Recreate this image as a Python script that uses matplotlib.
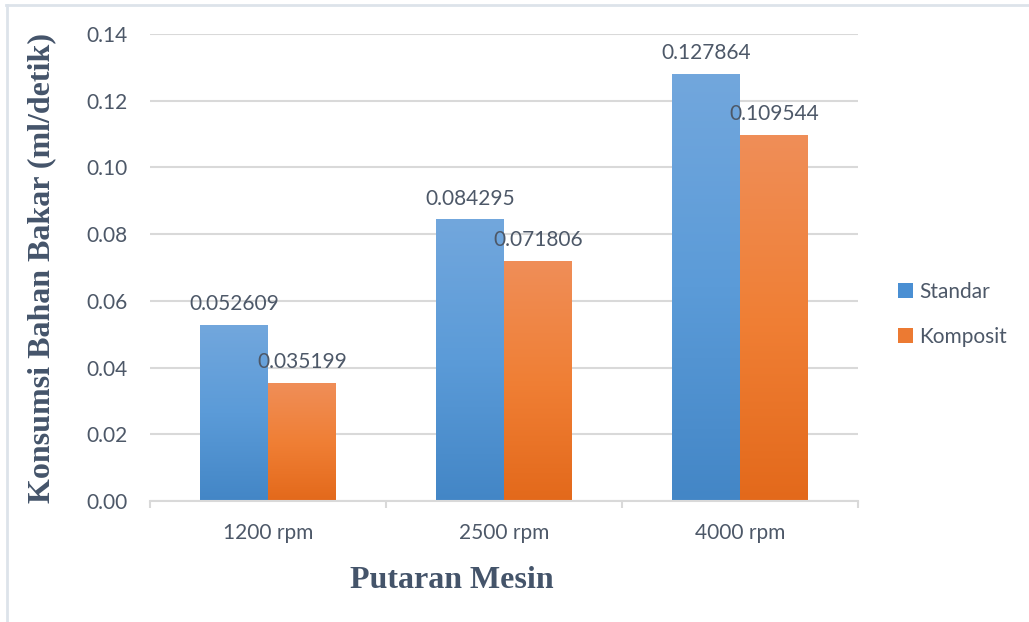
import numpy as np
import matplotlib
matplotlib.use("Agg")
import matplotlib.pyplot as plt
from matplotlib.colors import LinearSegmentedColormap
from matplotlib.patches import Patch
from matplotlib.lines import Line2D

# data
categories = ["1200 rpm", "2500 rpm", "4000 rpm"]
standar = [0.052609, 0.084295, 0.127864]
komposit = [0.035199, 0.071806, 0.109544]
series_names = ["Standar", "Komposit"]
yticks = [0.00, 0.02, 0.04, 0.06, 0.08, 0.10, 0.12, 0.14]

text_col = "#4d5868"
title_col = "#44546a"
grid_col = "#d9d9d9"
plt.rcParams["font.family"] = ["Lato", "DejaVu Sans"]

# gradient colours: bottom -> top
blue_cmap = LinearSegmentedColormap.from_list("b", ["#4386c6", "#5b9bd8", "#72a7dd"])
orange_cmap = LinearSegmentedColormap.from_list("o", ["#e3691b", "#f07f35", "#ef8e58"])

fig = plt.figure(figsize=(10.29, 6.22), dpi=100)
ax = fig.add_axes([150 / 1029, 1 - 501 / 622, 708 / 1029, 467 / 622])

x = np.arange(len(categories))
w = 0.288
grad = np.linspace(0, 1, 256).reshape(-1, 1)

for vals, off, cmap in [(standar, -w / 2, blue_cmap), (komposit, w / 2, orange_cmap)]:
    bars = ax.bar(x + off, vals, w, color="none", edgecolor="none")
    for b, v in zip(bars, vals):
        x0, x1 = b.get_x(), b.get_x() + b.get_width()
        ax.imshow(grad, cmap=cmap, origin="lower", aspect="auto",
                  extent=[x0, x1, 0, b.get_height()], zorder=2)
        ax.annotate(f"{v:.6f}", xy=((x0 + x1) / 2, v), xytext=(0, 8),
                    textcoords="offset points", ha="center", va="bottom",
                    fontsize=15, color=text_col, zorder=4)

ax.set_xlim(-0.5, 2.5)
ax.set_ylim(0, 0.14)
ax.set_yticks(yticks)
ax.set_yticklabels([f"{t:.2f}" for t in yticks])
ax.set_xticks(x)
ax.set_xticklabels(categories)
ax.set_xticks([-0.5, 0.5, 1.5, 2.5], minor=True)
ax.tick_params(axis="x", which="major", length=0, pad=16, labelsize=15, labelcolor=text_col)
ax.tick_params(axis="x", which="minor", length=5, width=1.5, color=grid_col, direction="out")
ax.tick_params(axis="y", length=0, pad=16, labelsize=15, labelcolor=text_col)

ax.grid(axis="y", color=grid_col, lw=1.5, zorder=0)
ax.set_axisbelow(True)
for s in ["left", "right", "top"]:
    ax.spines[s].set_visible(False)
ax.spines["bottom"].set_color(grid_col)
ax.spines["bottom"].set_linewidth(1.5)

# axis titles
fig.text(42 / 1029, 1 - 268 / 622, "Konsumsi Bahan Bakar (ml/detik)", family="Liberation Serif",
         fontweight="bold", fontsize=23, color=title_col, rotation=90, ha="center", va="center")
fig.text(452 / 1029, 1 - 580 / 622, "Putaran Mesin", family="Liberation Serif",
         fontweight="bold", fontsize=23, color=title_col, ha="center", va="center")

handles = [Patch(facecolor="#4a8fd3"), Patch(facecolor="#ec7a32")]
ax.legend(handles, series_names, loc="center left", bbox_to_anchor=(1.03, 0.40),
          frameon=False, fontsize=15, labelcolor=text_col, handlelength=0.7,
          handleheight=0.7, handletextpad=0.3, labelspacing=1.2)

# chart border (top and left)
fig.add_artist(Line2D([6 / 1029, 1], [1 - 5 / 622] * 2, color="#dde3ea", lw=2))
fig.add_artist(Line2D([7 / 1029] * 2, [0, 1 - 5 / 622], color="#dde3ea", lw=2))

fig.savefig("out.png", dpi=100)
